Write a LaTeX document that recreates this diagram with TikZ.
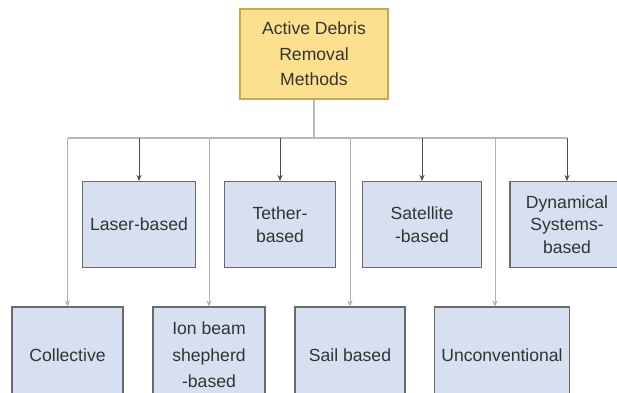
\documentclass[tikz,border=0pt]{standalone}
\usepackage{fontspec}
\setmainfont{Liberation Sans}
\usepackage{xcolor}
\usepackage{tikz}
\usetikzlibrary{arrows.meta,positioning}
\definecolor{rootfill}{HTML}{FCE08E}
\definecolor{rootdraw}{HTML}{C8A84E}
\definecolor{boxfill}{HTML}{D6E0F0}
\definecolor{boxdraw}{HTML}{6A6A6A}
\definecolor{txt}{HTML}{333333}

\begin{document}
\begin{tikzpicture}[x=0.5pt, y=-0.5pt,
    root/.style={draw=rootdraw, fill=rootfill, line width=0.6pt, align=center,
      text=txt, minimum width=74pt, minimum height=45pt, inner sep=1pt,
      font=\fontsize{8.8}{12.75}\selectfont},
    method/.style={draw=boxdraw, fill=boxfill, line width=0.6pt, align=center,
      text=txt, minimum height=43pt, inner sep=1pt,
      font=\fontsize{8.8}{11.25}\selectfont},
    lowmethod/.style={method, minimum height=48pt, font=\fontsize{8.8}{13.25}\selectfont},
    bus/.style={draw=gray!55, line width=0.6pt},
    arr/.style={draw=black!70, line width=0.5pt, -{Stealth[length=3pt,width=2.6pt]}},
    arrlight/.style={draw=gray!60, line width=0.5pt, -{Stealth[length=3pt,width=2.6pt,fill=black!70]}}]
  \useasboundingbox (0,0) rectangle (617,392);

  % root
  \node[root] (root) at (314,54) {Active Debris\\Removal\\Methods};

  % upper row
  \node[method, minimum width=56.5pt] (laser) at (139,224.5) {Laser-based};
  \node[method, minimum width=55.5pt] (tether) at (280,224.5) {Tether-\\based};
  \node[method, minimum width=59.5pt] (sat) at (422,224.5) {Satellite\\-based};
  \node[method, minimum width=57pt] (dyn) at (567,224.5) {Dynamical\\Systems-\\based};

  % lower row (runs off the page)
  \node[lowmethod, minimum width=55.5pt] (coll) at (67.5,355) {Collective};
  \node[lowmethod, minimum width=56pt] (ion) at (209,355) {Ion beam\\shepherd\\-based};
  \node[lowmethod, minimum width=55pt] (sail) at (350,355) {Sail based};
  \node[lowmethod, minimum width=67.5pt] (unc) at (502,355) {Unconventional};

  % bus
  \coordinate (bus) at (314,138);
  \coordinate (busL) at (coll.north |- bus);
  \coordinate (busR) at (dyn.north |- bus);
  \draw[bus] (root.south) -- (bus);
  \draw[bus] (busL) -- (busR);

  % branches
  \foreach \n in {laser,tether,sat,dyn}
    \draw[arr] (\n.north |- bus) -- (\n.north);
  \foreach \n in {coll,ion,sail}
    \draw[arrlight] (\n.north |- bus) -- (\n.north);
  \coordinate (unctop) at ([xshift=-3.5pt]unc.north);
  \draw[arrlight] (unctop |- bus) -- (unctop);
\end{tikzpicture}
\end{document}
